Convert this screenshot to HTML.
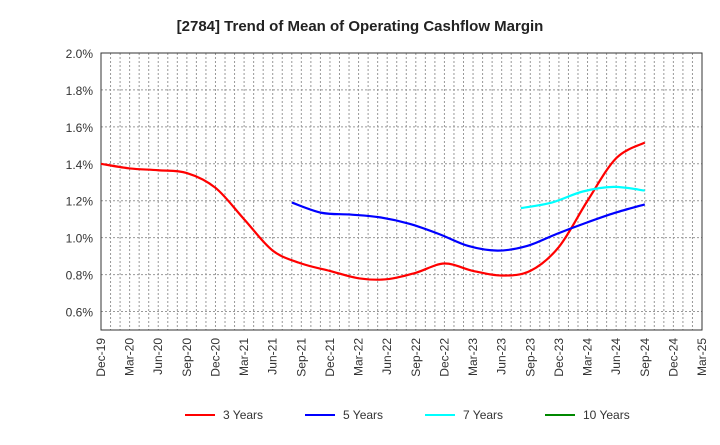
<!DOCTYPE html>
<html><head><meta charset="utf-8"><style>
body{margin:0;background:#fff;font-family:"Liberation Sans",sans-serif}
</style></head><body>
<svg id="c" width="720" height="440" xmlns="http://www.w3.org/2000/svg" font-family="Liberation Sans, sans-serif"></svg>
<script>
const xLabels=["Dec-19","Mar-20","Jun-20","Sep-20","Dec-20","Mar-21","Jun-21","Sep-21","Dec-21","Mar-22","Jun-22","Sep-22","Dec-22","Mar-23","Jun-23","Sep-23","Dec-23","Mar-24","Jun-24","Sep-24","Dec-24","Mar-25"];
const yTicks=[0.6,0.8,1.0,1.2,1.4,1.6,1.8,2.0];
const s3=[1.40,1.375,1.365,1.35,1.27,1.10,0.93,0.86,0.82,0.78,0.775,0.81,0.86,0.82,0.795,0.82,0.95,1.20,1.43,1.515];
const s3start=0;
const s5=[1.19,1.135,1.125,1.11,1.075,1.02,0.955,0.93,0.955,1.02,1.08,1.135,1.18];
const s5start=6.67;
const s7=[1.16,1.19,1.25,1.275,1.255];
const s7start=14.67;
const s10=[];
const s10start=0;
const seriesEnd=19;
const L=101,R=702,T=53,B=330,yMin=0.5,yMax=2.0;
const svg=document.getElementById('c');const NS="http://www.w3.org/2000/svg";
const X=i=>L+(R-L)*i/(xLabels.length-1);
const Y=v=>B-(B-T)*(v-yMin)/(yMax-yMin);
function el(t,a,p){const e=document.createElementNS(NS,t);for(const k in a)e.setAttribute(k,a[k]);(p||svg).appendChild(e);return e;}
const tt=el('text',{x:360,y:31,'text-anchor':'middle','font-size':15,'font-weight':'bold',fill:'#222'});tt.textContent="[2784]  Trend of Mean of Operating Cashflow Margin";


const g=el('g',{});


for(let m=1;m<(xLabels.length-1)*3;m++){const x=L+(R-L)*m/((xLabels.length-1)*3);el('line',{x1:x,x2:x,y1:T,y2:B,stroke:'#999','stroke-dasharray':'2,2','stroke-width':1},g);}
yTicks.forEach(v=>{el('line',{x1:L,x2:R,y1:Y(v),y2:Y(v),stroke:'#999','stroke-dasharray':'2,2'},g);
const t=el('text',{x:L-8,y:Y(v)+5,'text-anchor':'end','font-size':12,fill:'#333'});t.textContent=v.toFixed(1)+'%';

});
const fr=el('rect',{x:L,y:T,width:R-L,height:B-T,fill:'none',stroke:'#333','stroke-width':1});


xLabels.forEach((s,i)=>{const t=el('text',{transform:`translate(${X(i)+4},${B+8}) rotate(-90)`,'text-anchor':'end','font-size':12,fill:'#333'});t.textContent=s;

});
function path(vals,start,color,name){if(!vals.length)return;const step=vals.length>1?(seriesEnd-start)/(vals.length-1):0;const p=vals.map((v,i)=>[X(start+i*step),Y(v)]);let d=`M${p[0][0]},${p[0][1]}`;
for(let i=0;i<p.length-1;i++){const p0=p[i-1]||p[i],p1=p[i],p2=p[i+1],p3=p[i+2]||p2;
d+=` C${p1[0]+(p2[0]-p0[0])/6},${p1[1]+(p2[1]-p0[1])/6} ${p2[0]-(p3[0]-p1[0])/6},${p2[1]-(p3[1]-p1[1])/6} ${p2[0]},${p2[1]}`;}
const e=el('path',{d,fill:'none',stroke:color,'stroke-width':2.2});

}
path(s3,s3start,'#f00','line-3-years');path(s5,s5start,'#00f','line-5-years');path(s7,s7start,'#0ff','line-7-years');path(s10,s10start,'#080','line-10-years');
[["3 Years","#f00",185],["5 Years","#00f",305],["7 Years","#0ff",425],["10 Years","#080",545]].forEach(([n,c,x])=>{
const lg=el('g',{});


el('line',{x1:x,x2:x+30,y1:415,y2:415,stroke:c,'stroke-width':2},lg);
const t=el('text',{x:x+38,y:419,'font-size':12,fill:'#333'},lg);t.textContent=n;});
</script>
</body></html>
